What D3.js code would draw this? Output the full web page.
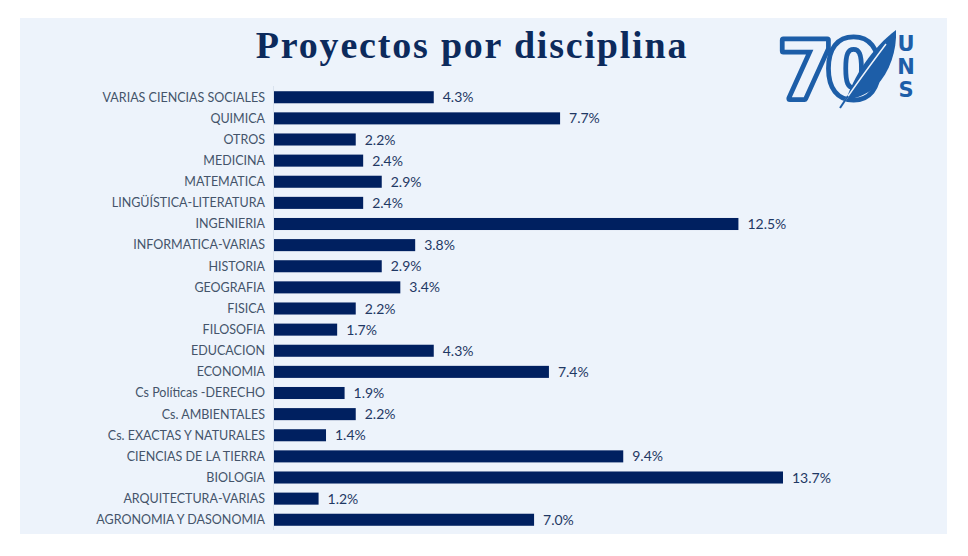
<!DOCTYPE html>
<html>
<head>
<meta charset="utf-8">
<title>Proyectos por disciplina</title>
<script src="https://d3js.org/d3.v7.min.js"></script>
<style>
  body { margin: 0; background: #fff; }
  .lbl { font-family: Lato, "Open Sans", sans-serif; font-size: 12.5px; fill: #44546a; }
  .val { font-family: Lato, "Open Sans", sans-serif; font-size: 14px; fill: #1f3864; }
  .title { font-family: "Liberation Serif", "DejaVu Serif", serif; font-weight: bold; font-size: 38px; fill: #0c2a5c; letter-spacing: 1.8px; }
</style>
</head>
<body>
<svg id="chart" width="968" height="556"></svg>
<script>
// categories top to bottom, as shown
var disciplinas = [
  "VARIAS CIENCIAS SOCIALES", "QUIMICA", "OTROS", "MEDICINA", "MATEMATICA",
  "LINGÜÍSTICA-LITERATURA", "INGENIERIA", "INFORMATICA-VARIAS", "HISTORIA",
  "GEOGRAFIA", "FISICA", "FILOSOFIA", "EDUCACION", "ECONOMIA",
  "Cs Políticas -DERECHO", "Cs. AMBIENTALES", "Cs. EXACTAS Y NATURALES",
  "CIENCIAS DE LA TIERRA", "BIOLOGIA", "ARQUITECTURA-VARIAS", "AGRONOMIA Y DASONOMIA"
];
// share of projects, %
var porcentajes = [4.3, 7.7, 2.2, 2.4, 2.9, 2.4, 12.5, 3.8, 2.9, 3.4, 2.2, 1.7, 4.3, 7.4, 1.9, 2.2, 1.4, 9.4, 13.7, 1.2, 7.0];

var svg = d3.select("#chart");

// background panel
svg.append("rect").attr("x", 20).attr("y", 18).attr("width", 927).attr("height", 516).attr("fill", "#edf3fb");

svg.append("text").attr("class", "title")
  .attr("x", 472).attr("y", 58).attr("text-anchor", "middle")
  .text("Proyectos por disciplina");

var x = d3.scaleLinear().domain([0, 13.7]).range([274, 783]);
var y = d3.scaleBand().domain(disciplinas).range([87, 530]).paddingInner(0.43).paddingOuter(0.2);

var data = disciplinas.map(function(d, i) { return {cat: d, val: porcentajes[i]}; });

// category axis line
svg.append("line").attr("x1", 273.5).attr("x2", 273.5).attr("y1", 86).attr("y2", 530)
  .attr("stroke", "#d9e2ee").attr("stroke-width", 1);

svg.append("g").selectAll("rect").data(data).enter()
  .append("rect")
  .attr("x", x(0))
  .attr("y", function(d) { return y(d.cat); })
  .attr("width", function(d) { return x(d.val) - x(0); })
  .attr("height", y.bandwidth())
  .attr("fill", "#002060");

svg.append("g").selectAll("text").data(data).enter()
  .append("text").attr("class", "lbl")
  .attr("x", 265)
  .attr("y", function(d) { return y(d.cat) + y.bandwidth() / 2; })
  .attr("dy", "0.35em")
  .attr("text-anchor", "end")
  .text(function(d) { return d.cat; });

svg.append("g").selectAll("text").data(data).enter()
  .append("text").attr("class", "val")
  .attr("x", function(d) { return x(d.val) + 9; })
  .attr("y", function(d) { return y(d.cat) + y.bandwidth() / 2; })
  .attr("dy", "0.36em")
  .text(function(d) { return d.val.toFixed(1) + "%"; });

// 70 UNS logo
var blue = "#1d5ea8";
var logo = svg.append("g").attr("transform", "translate(776,30)");
logo.append("text").attr("x", 2).attr("y", 68)
  .attr("font-family", "'DejaVu Sans', sans-serif").attr("font-weight", "bold")
  .attr("font-size", 80).attr("letter-spacing", -8)
  .attr("fill", "#edf3fb").attr("stroke", blue).attr("stroke-width", 7)
  .attr("stroke-linejoin", "round").attr("paint-order", "stroke")
  .text("70");
logo.append("text").attr("x", 2).attr("y", 68)
  .attr("font-family", "'DejaVu Sans', sans-serif").attr("font-weight", "bold")
  .attr("font-size", 80).attr("letter-spacing", -8)
  .attr("fill", "none").attr("stroke", blue).attr("stroke-width", 2.5)
  .text("70");
// feather
logo.append("path")
  .attr("d", "M70,70 C78,46 96,18 120,0 C121,20 114,42 100,56 C94,62 86,66 78,68 Z")
  .attr("fill", blue);
logo.append("path")
  .attr("d", "M64,78 C76,60 92,38 110,14").attr("fill", "none")
  .attr("stroke", "#edf3fb").attr("stroke-width", 1.5);
logo.append("path")
  .attr("d", "M64,78 L72,66").attr("fill", "none")
  .attr("stroke", blue).attr("stroke-width", 2);
["U", "N", "S"].forEach(function(c, i) {
  logo.append("text").attr("x", 130).attr("y", 21 + i * 23)
    .attr("text-anchor", "middle")
    .attr("font-family", "'DejaVu Sans', sans-serif").attr("font-weight", "bold")
    .attr("font-size", 21).attr("fill", blue).text(c);
});
</script>
</body>
</html>
